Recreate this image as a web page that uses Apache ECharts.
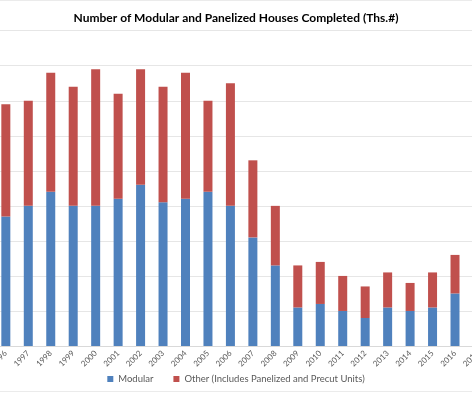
<!DOCTYPE html>
<html>
<head>
<meta charset="utf-8">
<script src="https://cdn.jsdelivr.net/npm/echarts@6/dist/echarts.min.js"></script>
<style>
html,body{margin:0;padding:0;background:#fff;overflow:hidden;}
#c{width:472px;height:394px;}
</style>
</head>
<body>
<div id="c"></div>
<script>
const years = ['1996','1997','1998','1999','2000','2001','2002','2003','2004','2005','2006','2007','2008','2009','2010','2011','2012','2013','2014','2015','2016','2017'];
const modular = [37,40,44,40,40,42,46,41,42,44,40,31,23,11,12,10,8,11,10,11,15,null];
const other = [32,30,34,34,39,30,33,33,36,26,35,22,17,12,12,10,9,10,8,10,11,null];
const yTicks = {min:0, max:90, interval:10};

const chart = echarts.init(document.getElementById('c'), null, {renderer:'canvas'});
chart.setOption({
  animation:false,
  backgroundColor:'#fff',
  title:{
    text:'Number of Modular and Panelized Houses Completed (Ths.#)',
    left:'center', top:7,
    textStyle:{fontFamily:'Lato', fontWeight:'bold', fontSize:12, color:'#000'}
  },
  legend:{
    bottom:5, left:'center',
    itemWidth:6, itemHeight:6, itemGap:20,
    icon:'rect',
    textStyle:{fontFamily:'Lato', fontSize:9.5, color:'#595959'},
    data:['Modular','Other (Includes Panelized and Precut Units)']
  },
  graphic:[
    {type:'line', shape:{x1:0,y1:0.5,x2:472,y2:0.5}, style:{stroke:'#EBEBEB', lineWidth:1}},
    {type:'line', shape:{x1:0,y1:391.5,x2:472,y2:391.5}, style:{stroke:'#EBEBEB', lineWidth:1}}
  ],
  grid:{left:-5.4, right:-16.7, top:30.7, bottom:48, containLabel:false, outerBoundsMode:'none'},
  xAxis:{
    type:'category', data:years,
    axisLine:{show:true, lineStyle:{color:'#D9D9D9'}},
    axisTick:{show:false},
    axisLabel:{rotate:45, fontSize:8, color:'#595959', margin:6, fontFamily:'Lato', interval:0, hideOverlap:false}
  },
  yAxis:{
    type:'value', min:yTicks.min, max:yTicks.max, interval:yTicks.interval,
    axisLabel:{show:false},
    axisLine:{show:false}, axisTick:{show:false},
    splitLine:{lineStyle:{color:'#E6E6E6'}}
  },
  series:[
    {name:'Modular', type:'bar', stack:'t', data:modular, barWidth:9, itemStyle:{color:'#4F81BD'}},
    {name:'Other (Includes Panelized and Precut Units)', type:'bar', stack:'t', data:other, barWidth:9, itemStyle:{color:'#C0504D'}}
  ]
});
</script>
</body>
</html>
